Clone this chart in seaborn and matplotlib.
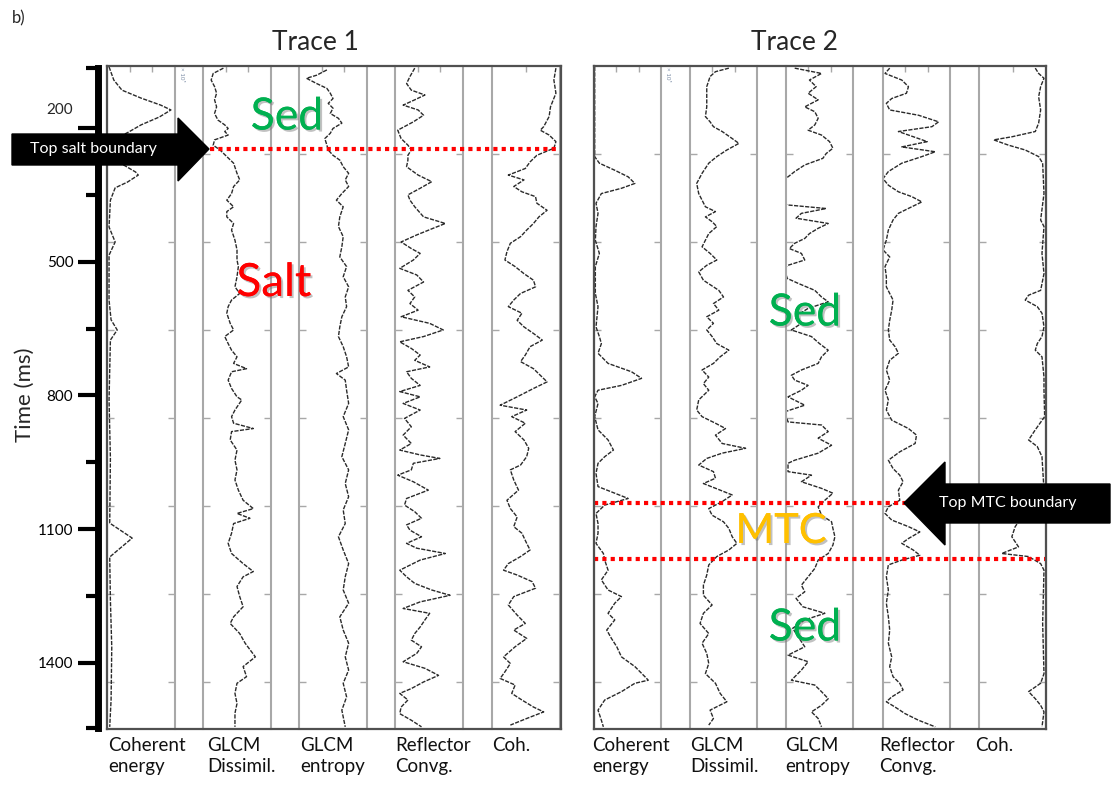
import matplotlib
matplotlib.use("Agg")
import matplotlib.pyplot as plt
import matplotlib.patheffects as pe
from matplotlib.patches import Polygon
import seaborn as sns
import numpy as np

sns.set_style("white")
plt.rcParams["font.family"] = ["Lato", "DejaVu Sans"]

# ---------------- data (time in ms, value = normalised amplitude 0..1) ----------------
PANEL_TITLES = ["Trace 1", "Trace 2"]
TRACK_LABELS = ["Coherent\nenergy", "GLCM\nDissimil.", "GLCM\nentropy", "Reflector\nConvg.", "Coh."]
TIME_TICKS = [200, 500, 800, 1100, 1400]
TIME_MINOR = [350, 650, 950, 1250]
GRID_T = [260, 460, 660, 860, 1060, 1260, 1460]

T1_TOP_SALT = 248
T2_TOP_MTC = 1052
T2_BASE_MTC = 1180

T1_CE = [(61, .03), (91, .10), (114, .22), (132, .50), (148, .79), (159, .94), (175, .77), (193, .50),
         (209, .32), (227, .10), (257, .02), (280, .20), (300, .42), (307, .46), (323, .30), (336, .12),
         (364, .05), (425, .03), (459, .12), (489, .03), (591, .03), (636, .06), (659, .15), (682, .05),
         (818, .03), (950, .05), (1098, .04), (1132, .37), (1175, .04), (1273, .05), (1380, .07),
         (1500, .06), (1561, .04)]
T1_DISS = [(64, .30), (76, .15), (91, .12), (106, .17), (121, .20), (136, .17), (152, .20), (167, .17),
           (182, .22), (193, .32), (201, .37), (208, .32), (216, .37), (227, .17), (239, .15), (250, .25),
           (265, .35), (280, .45), (303, .50), (318, .54), (333, .45), (349, .42), (364, .35), (379, .45),
           (390, .35), (402, .35), (417, .45), (432, .42), (455, .47), (477, .50), (500, .50), (515, .52),
           (538, .50), (561, .47), (576, .54), (591, .42), (606, .37), (621, .35), (644, .40), (659, .45),
           (674, .32), (690, .37), (705, .42), (720, .50), (735, .45), (747, .64), (754, .42), (773, .37),
           (792, .42), (811, .50), (818, .57), (841, .47), (856, .42), (871, .45), (883, .74), (890, .42),
           (909, .40), (932, .50), (955, .47), (977, .50), (1000, .47), (1023, .52), (1046, .59), (1065, .74),
           (1076, .50), (1087, .69), (1099, .45), (1121, .42), (1144, .37), (1167, .42), (1190, .59),
           (1208, .74), (1220, .59), (1242, .50), (1265, .54), (1288, .59), (1311, .45), (1326, .40),
           (1349, .54), (1371, .62), (1402, .77), (1424, .59), (1447, .64), (1462, .50), (1485, .47),
           (1508, .50), (1530, .47), (1561, .47)]
T1_ENT = [(68, .41), (80, .26), (87, .11), (99, .26), (110, .41), (121, .46), (133, .50), (144, .43),
          (155, .50), (167, .46), (178, .58), (189, .63), (201, .50), (212, .46), (224, .38), (239, .41),
          (250, .43), (262, .50), (273, .60), (288, .65), (303, .73), (318, .68), (333, .73), (349, .63),
          (364, .55), (379, .65), (402, .60), (424, .58), (447, .65), (470, .63), (493, .60), (515, .70),
          (538, .65), (561, .73), (584, .68), (606, .70), (629, .63), (652, .60), (674, .58), (697, .65),
          (720, .70), (743, .73), (758, .55), (773, .68), (796, .70), (826, .73), (856, .65), (886, .73),
          (917, .68), (947, .63), (977, .73), (1008, .68), (1038, .73), (1068, .65), (1099, .68), (1129, .58),
          (1159, .65), (1190, .73), (1220, .68), (1250, .65), (1280, .73), (1311, .60), (1341, .65),
          (1371, .73), (1402, .68), (1432, .73), (1462, .65), (1493, .70), (1523, .63), (1561, .68)]
T1_REF = [(64, .29), (83, .22), (99, .17), (114, .24), (125, .44), (136, .29), (148, .12), (159, .34),
          (171, .42), (186, .27), (205, .04), (224, .09), (239, .19), (250, .24), (262, .19), (273, .19),
          (288, .17), (307, .34), (322, .54), (337, .37), (352, .19), (364, .22), (379, .29), (402, .42),
          (417, .74), (428, .56), (443, .32), (459, .09), (474, .24), (485, .37), (500, .27), (519, .07),
          (534, .32), (550, .42), (569, .19), (584, .29), (599, .22), (614, .34), (629, .09), (644, .51),
          (659, .71), (674, .42), (686, .07), (701, .24), (716, .37), (728, .29), (743, .51), (754, .17),
          (769, .24), (785, .37), (799, .07), (811, .37), (826, .12), (841, .37), (860, .14), (879, .24),
          (898, .12), (917, .24), (932, .07), (943, .37), (951, .66), (962, .27), (977, .24), (989, .04),
          (1004, .27), (1023, .49), (1042, .17), (1057, .14), (1072, .29), (1087, .39), (1102, .17),
          (1114, .22), (1129, .39), (1144, .17), (1155, .32), (1167, .74), (1182, .37), (1205, .07),
          (1220, .17), (1235, .29), (1250, .54), (1262, .81), (1277, .37), (1292, .12), (1303, .51),
          (1318, .44), (1334, .37), (1349, .29), (1364, .24), (1379, .39), (1394, .32), (1413, .12),
          (1428, .44), (1444, .64), (1459, .42), (1474, .24), (1485, .07), (1500, .19), (1516, .09),
          (1531, .07), (1546, .24), (1561, .39)]
T1_COH = [(64, .94), (91, .91), (121, .94), (152, .86), (174, .84), (197, .76), (205, .71), (216, .84),
          (231, .94), (246, .91), (262, .66), (277, .56), (292, .49), (307, .24), (318, .47), (333, .32),
          (345, .44), (356, .64), (371, .66), (387, .81), (402, .69), (417, .61), (432, .51), (447, .42),
          (462, .27), (481, .22), (500, .19), (515, .34), (531, .47), (546, .61), (561, .64), (576, .42),
          (591, .32), (606, .24), (621, .44), (637, .37), (652, .47), (667, .61), (682, .74), (697, .56),
          (716, .49), (731, .42), (747, .61), (762, .71), (777, .81), (792, .61), (811, .37), (830, .12),
          (841, .51), (856, .29), (871, .49), (890, .34), (909, .47), (928, .54), (947, .51), (966, .42),
          (977, .27), (1000, .32), (1023, .39), (1046, .22), (1065, .27), (1084, .37), (1106, .32),
          (1121, .44), (1144, .51), (1159, .56), (1174, .42), (1190, .24), (1205, .17), (1216, .37),
          (1231, .59), (1246, .64), (1265, .32), (1284, .24), (1307, .37), (1326, .49), (1341, .32),
          (1360, .51), (1379, .34), (1402, .17), (1417, .27), (1436, .19), (1451, .12), (1466, .34),
          (1485, .29), (1500, .44), (1516, .61), (1527, .76), (1542, .51), (1557, .27)]

T2_CE = [(61, .01), (265, .01), (280, .08), (296, .31), (311, .51), (326, .61), (337, .41), (349, .11),
         (371, .03), (394, .06), (424, .03), (455, .02), (485, .08), (515, .02), (576, .02), (606, .06),
         (652, .03), (674, .08), (690, .11), (712, .06), (735, .21), (754, .56), (769, .71), (785, .41),
         (796, .06), (811, .01), (826, .06), (856, .01), (886, .06), (909, .21), (932, .29), (947, .16),
         (962, .06), (985, .03), (1015, .06), (1030, .31), (1042, .51), (1057, .16), (1076, .03),
         (1099, .06), (1121, .06), (1144, .03), (1167, .14), (1182, .16), (1205, .21), (1227, .11),
         (1250, .21), (1265, .41), (1280, .31), (1303, .21), (1318, .31), (1341, .19), (1360, .26),
         (1379, .34), (1402, .41), (1424, .61), (1447, .76), (1455, .81), (1462, .61), (1481, .41),
         (1500, .16), (1523, .06), (1546, .11), (1561, .14)]
T2_DISS = [(64, .58), (72, .38), (83, .30), (106, .25), (129, .25), (152, .25), (174, .23), (186, .30),
           (197, .35), (208, .48), (224, .63), (235, .73), (250, .55), (265, .40), (280, .28), (303, .18),
           (326, .10), (349, .13), (364, .18), (379, .23), (390, .38), (402, .23), (413, .33), (424, .40),
           (440, .28), (455, .23), (470, .18), (485, .30), (500, .40), (512, .25), (527, .13), (546, .20),
           (569, .43), (584, .50), (599, .35), (614, .43), (629, .25), (644, .35), (659, .25), (674, .33),
           (690, .40), (705, .58), (720, .45), (735, .35), (750, .18), (766, .28), (781, .20), (796, .28),
           (818, .13), (841, .10), (856, .18), (871, .38), (883, .53), (898, .38), (917, .48), (928, .83),
           (939, .48), (951, .25), (966, .13), (981, .35), (996, .38), (1008, .20), (1023, .45), (1034, .63),
           (1049, .48), (1065, .28), (1080, .33), (1095, .50), (1110, .58), (1129, .63), (1144, .70),
           (1159, .58), (1174, .40), (1193, .28), (1216, .25), (1239, .20), (1262, .20), (1284, .33),
           (1303, .20), (1326, .15), (1349, .28), (1371, .18), (1394, .25), (1417, .28), (1440, .23),
           (1462, .38), (1485, .45), (1504, .55), (1523, .30), (1542, .35), (1557, .28)]
T2_ENT = [(64, .13), (76, .53), (91, .35), (106, .45), (121, .33), (136, .48), (152, .28), (163, .43),
          (178, .48), (193, .43), (205, .33), (216, .53), (231, .65), (246, .70), (258, .60), (269, .55),
          (284, .28), (299, .13), (311, .03), (318, -.05), (371, -.05), (375, .03), (383, .60), (394, .23),
          (405, .15), (417, .63), (428, .48), (440, .35), (451, .28), (462, .13), (474, .05), (485, .23),
          (500, .28), (512, .03), (519, -.03), (542, .02), (553, .18), (569, .43), (584, .53), (595, .63),
          (610, .33), (629, .13), (644, .23), (659, .08), (674, .38), (690, .50), (705, .63), (720, .53),
          (735, .48), (750, .23), (762, .08), (773, .13), (785, .33), (796, .23), (811, .03), (830, .28),
          (845, -.02), (868, .03), (875, .53), (890, .63), (905, .48), (921, .68), (939, .48), (955, .13),
          (962, .03), (981, .03), (989, .38), (1004, .23), (1019, .53), (1030, .70), (1046, .58),
          (1061, .48), (1080, .53), (1095, .68), (1110, .70), (1129, .73), (1148, .70), (1167, .63),
          (1182, .48), (1201, .43), (1220, .33), (1239, .23), (1254, .28), (1269, .15), (1288, .25),
          (1303, .58), (1318, .28), (1337, .10), (1356, .18), (1379, .28), (1398, .03), (1413, .33),
          (1432, .23), (1455, .08), (1466, .43), (1481, .53), (1497, .63), (1512, .53), (1527, .38),
          (1542, .48), (1561, .53)]
T2_REF = [(64, .10), (76, .03), (91, .28), (106, .38), (121, .35), (133, .13), (144, .05), (159, .10),
          (171, .53), (186, .83), (197, .73), (208, .23), (224, .53), (231, .66), (243, .28), (254, .78),
          (265, .58), (280, .28), (299, .08), (315, .00), (330, .08), (345, .23), (356, .43), (368, .58),
          (379, .43), (394, .23), (409, .15), (432, .08), (455, .05), (477, .00), (493, .10), (515, .03),
          (538, .05), (561, .05), (576, .10), (591, .15), (614, .13), (637, .10), (659, .08), (682, .10),
          (697, .18), (712, .23), (728, .10), (750, .05), (773, .10), (796, .03), (818, .08), (841, .05),
          (864, .13), (883, .38), (898, .50), (917, .48), (936, .25), (955, .08), (974, .15), (989, .25),
          (1004, .30), (1023, .23), (1046, .25), (1061, .08), (1076, .03), (1091, .13), (1106, .38),
          (1118, .55), (1133, .38), (1144, .28), (1159, .45), (1171, .55), (1182, .28), (1193, .08),
          (1220, .05), (1250, .08), (1280, .05), (1311, .08), (1341, .10), (1371, .08), (1402, .13),
          (1424, .10), (1447, .15), (1462, .25), (1477, .30), (1493, .13), (1504, .05), (1516, .18),
          (1531, .33), (1546, .53), (1561, .78)]
T2_COH = [(64, .84), (76, .89), (87, .97), (106, .92), (129, .89), (159, .92), (189, .89), (208, .84),
          (220, .49), (227, .22), (239, .44), (250, .69), (265, .89), (280, .95), (349, .97), (409, .92),
          (424, .97), (485, .94), (531, .97), (569, .92), (580, .74), (591, .69), (606, .87), (621, .94),
          (652, .97), (674, .94), (690, .87), (705, .84), (720, .94), (766, .97), (796, .97), (856, .98),
          (886, .84), (909, .74), (924, .87), (947, .94), (1023, .97), (1046, .89), (1068, .74), (1084, .64),
          (1106, .54), (1129, .49), (1152, .59), (1167, .34), (1174, .74), (1190, .92), (1205, .97),
          (1326, .95), (1440, .97), (1462, .92), (1481, .74), (1497, .84), (1512, .92), (1527, .97),
          (1561, .94)]

PANELS = [[T1_CE, T1_DISS, T1_ENT, T1_REF, T1_COH],
          [T2_CE, T2_DISS, T2_ENT, T2_REF, T2_COH]]

# ---------------- layout (pixels) ----------------
W, H = 1115, 787
fig = plt.figure(figsize=(W / 100, H / 100), dpi=100)


def fx(x):
    return x / W


def fy(y):
    return 1 - y / H


TOP_PX, BOT_PX = 66, 729
T_TOP, T_BOT = 59.1, 1565.9
TRACK_LEFTS = [[107, 203, 299, 395, 492], [594, 690, 786, 883, 979]]
TRACK_W = [68, 67]
PANEL_X = [(107, 561), (594, 1046)]
LABEL_X = [[108, 207, 300, 395, 492], [592, 690, 785, 879, 975]]
TITLE_X = [315, 795]
TOPTICKS = [[1 / 3, 2 / 3]] * 4 + [[0.5]]

LINE_C = "#2a2a2a"
GRID_C = "#a8a8a8"

for p in range(2):
    for k in range(5):
        L = TRACK_LEFTS[p][k]
        ax = fig.add_axes([fx(L), fy(BOT_PX), TRACK_W[p] / W, (BOT_PX - TOP_PX) / H])
        data = PANELS[p][k]
        tt = np.array([d[0] for d in data], dtype=float)
        vv = np.array([d[1] for d in data], dtype=float)
        sns.lineplot(x=vv, y=tt, ax=ax, orient="y", estimator=None, sort=True,
                     color=LINE_C, lw=1.0, linestyle=(0, (3, 1)))
        ax.set_xlim(0, 1)
        ax.set_ylim(T_BOT, T_TOP)
        ax.set_xlabel("")
        ax.set_ylabel("")
        ax.set_facecolor("none")
        for s in ["top", "bottom"]:
            ax.spines[s].set_visible(False)
        for s in ["left", "right"]:
            ax.spines[s].set_color(GRID_C)
            ax.spines[s].set_linewidth(1.5)
        ax.set_yticks(GRID_T)
        ax.tick_params(axis="y", left=True, right=True, direction="in", length=5, width=1,
                       color=GRID_C, labelleft=False, labelright=False)
        ax.set_xticks(TOPTICKS[k])
        ax.tick_params(axis="x", top=True, bottom=False, direction="in", length=4, width=1,
                       color=GRID_C, labelbottom=False, labeltop=False)
        fig.text(fx(LABEL_X[p][k]), fy(737), TRACK_LABELS[k], ha="left", va="top",
                 fontsize=13.5, linespacing=1.3, color="#111111")

    # panel frame + horizons
    x0, x1 = PANEL_X[p]
    ov = fig.add_axes([fx(x0), fy(BOT_PX), (x1 - x0) / W, (BOT_PX - TOP_PX) / H])
    ov.set_xlim(0, 1)
    ov.set_ylim(T_BOT, T_TOP)
    ov.set_facecolor("none")
    ov.set_xticks([])
    ov.set_yticks([])
    for s in ov.spines.values():
        s.set_color("#505050")
        s.set_linewidth(1.6)
    if p == 0:
        ov.axhline(T1_TOP_SALT, xmin=(210 - x0) / (x1 - x0), xmax=1, color="red", lw=3,
                   linestyle=(0, (1, 1)))
    else:
        ov.axhline(T2_TOP_MTC, xmin=0, xmax=(905 - x0) / (x1 - x0), color="red", lw=3,
                   linestyle=(0, (1, 1)))
        ov.axhline(T2_BASE_MTC, xmin=0, xmax=1, color="red", lw=3, linestyle=(0, (1, 1)))

    fig.text(fx(TITLE_X[p]), fy(42), PANEL_TITLES[p], ha="center", va="center", fontsize=19)
    fig.text(fx(TRACK_LEFTS[p][0] + TRACK_W[p] + 4), fy(67), "× 10⁵", rotation=-90,
             ha="left", va="top", fontsize=4.5, color="#7f8fa8")

# ---------------- time axis ----------------
ax0 = fig.add_axes([fx(97.5), fy(728), 0.002, (728 - 68) / H])
ax0.set_ylim(1545.9, 65.4)
ax0.set_xlim(0, 1)
ax0.set_facecolor("none")
for s in ["top", "bottom", "right"]:
    ax0.spines[s].set_visible(False)
ax0.spines["left"].set_linewidth(5)
ax0.spines["left"].set_color("black")
ax0.set_xticks([])
ax0.set_yticks(TIME_TICKS)
ax0.set_yticklabels([""] + [str(v) for v in TIME_TICKS[1:]])
ax0.set_yticks(TIME_MINOR + [65.4, 1545.9], minor=True)
ax0.tick_params(axis="y", which="major", left=True, right=False, direction="out", length=14.4,
                width=3, pad=3, labelsize=11, colors="black")
ax0.tick_params(axis="y", which="minor", left=True, right=False, direction="out", length=9,
                width=3, colors="black")
ax0.annotate(str(TIME_TICKS[0]), xy=(0, TIME_TICKS[0]), xycoords=("axes fraction", "data"),
             xytext=(-17.5, 13), textcoords="offset points", ha="right", va="center", fontsize=11)
fig.text(fx(25), fy(395), "Time (ms)", rotation=90, ha="center", va="center", fontsize=16)
fig.text(fx(12), fy(18), "b)", ha="left", va="center", fontsize=12)

# ---------------- annotations ----------------
shadow = [pe.withSimplePatchShadow(offset=(1.5, -1.5), shadow_rgbFace="#777777", alpha=0.45), pe.Normal()]
for (x, y, s, c, fs) in [(287, 117, "Sed", "#00b050", 32), (274, 283, "Salt", "#ff0000", 33),
                         (805, 313, "Sed", "#00b050", 32), (781, 531, "MTC", "#ffc000", 30),
                         (805, 628, "Sed", "#00b050", 32)]:
    fig.text(fx(x), fy(y), s, color=c, fontsize=fs, ha="center", va="center",
             path_effects=shadow, zorder=6)

salt_arrow = [(12, 134), (178, 134), (178, 118), (209, 149), (178, 181), (178, 165), (12, 165)]
mtc_arrow = [(1110, 484), (945, 484), (945, 462), (904, 503), (945, 545), (945, 523), (1110, 523)]
for pts in (salt_arrow, mtc_arrow):
    fig.add_artist(Polygon([(fx(a), fy(b)) for a, b in pts], closed=True, transform=fig.transFigure,
                           facecolor="black", edgecolor="black", zorder=5))
fig.text(fx(93), fy(149), "Top salt boundary", color="white", fontsize=11.5, ha="center",
         va="center", zorder=7)
fig.text(fx(1008), fy(503), "Top MTC boundary", color="white", fontsize=11.5, ha="center",
         va="center", zorder=7)

fig.savefig("out.png", dpi=100, facecolor="white")
